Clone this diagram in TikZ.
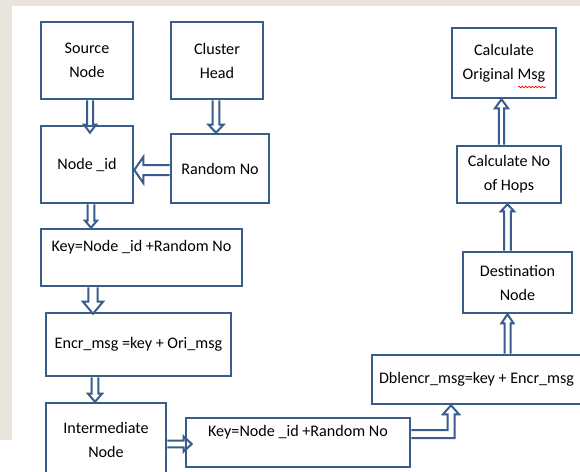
\documentclass[tikz,border=0pt]{standalone}
\usepackage{fontspec}
\setmainfont{Carlito}
\usetikzlibrary{calc,decorations.pathmorphing}
\definecolor{boxblue}{RGB}{56,93,138}
\definecolor{bgbeige}{RGB}{234,228,222}
\tikzset{
  box/.style={draw=boxblue, line width=1.9pt, align=center, inner sep=0pt,
    font=\fontsize{12.1}{18}\selectfont, text=black},
  arr/.style={draw=boxblue, line width=1.5pt, line join=miter}
}
\newcommand{\blkarrow}[5]{%
  \coordinate (bS) at #1;
  \coordinate (bE) at #2;
  \coordinate (bH) at ($(bE)!#5!(bS)$);
  \draw[arr] ($(bS)!#3!90:(bE)$) -- ($(bH)!#3!-90:(bS)$) -- ($(bH)!#4!-90:(bS)$)
    -- (bE) -- ($(bH)!#4!90:(bS)$) -- ($(bH)!#3!90:(bS)$) -- ($(bS)!#3!-90:(bE)$);
}
\begin{document}
\begin{tikzpicture}[x=0.75pt,y=-0.75pt]
\useasboundingbox (0,0) rectangle (580,471);
\fill[white] (0,0) rectangle (580,471);
\fill[bgbeige] (0,0) rectangle (12,440);
\fill[bgbeige] (0,0) rectangle (580,6);

\node[box, minimum width=69pt, minimum height=57.75pt] (src) at (87,60.5) {Source\\Node};
\node[box, minimum width=69pt, minimum height=57.75pt] (ch) at (217,60.5) {Cluster\\Head};
\node[box, minimum width=69pt, minimum height=57.75pt] (nid) at (87,164.5) {Node \_id};
\node[box, minimum width=73.5pt, minimum height=51.75pt] (rnd) at (220,168.5) {Random No};
\node[box, minimum width=150.75pt, minimum height=42.75pt] (key1) at (141.5,257.5) {Key=Node \_id +Random No\\ \mbox{}};
\node[box, minimum width=138.75pt, minimum height=47.25pt] (encr) at (138.5,344.5) {Encr\_msg =key + Ori\_msg};
\node[box, minimum width=90pt, minimum height=54.75pt] (inter) at (106,439.5) {Intermediate\\Node};
\node[box, minimum width=168pt, minimum height=36.75pt] (key2) at (298,442.5) {Key=Node \_id +Random No\\ \mbox{}};
\node[box, minimum width=156.75pt, minimum height=36.75pt] (dbl) at (476.5,379.5) {Dblencr\_msg=key + Encr\_msg};
\node[box, minimum width=81.75pt, minimum height=45.75pt] (dest) at (517.5,282.5) {Destination\\Node};
\node[box, minimum width=78pt, minimum height=42.75pt] (hops) at (509,174.5) {Calculate No\\of Hops};
\node[box, minimum width=78pt, minimum height=52.5pt] (orig) at (504,63) {Calculate\\Original Msg};

% spell-check squiggle under "Msg"
\draw[red, line width=0.5pt, decorate, decoration={snake, amplitude=0.6pt, segment length=2.5pt}]
  ($(orig.center)+(14,24)$) -- ($(orig.center)+(42,24)$);

% block arrows
\blkarrow{($(src.south)+(3,0)$)}{($(nid.north)+(3,8)$)}{2.25pt}{4.5pt}{6pt}
\blkarrow{($(ch.south)+(-1,0)$)}{($(rnd.north)+(-4,0)$)}{2.6pt}{5.6pt}{6pt}
\blkarrow{($(rnd.west)+(0,1.5)$)}{($(nid.east)+(0,5.5)$)}{3.75pt}{9.75pt}{6.75pt}
\blkarrow{($(nid.south)+(4,0)$)}{($(key1.north)+(-50.5,0)$)}{2.6pt}{4.5pt}{5.25pt}
\blkarrow{($(key1.south)+(-48.5,0)$)}{($(encr.north)+(-45.5,2)$)}{3.4pt}{7.5pt}{9pt}
\blkarrow{($(encr.south)+(-43.5,0)$)}{($(inter.north)+(-11,0)$)}{2.6pt}{5.25pt}{6pt}
\blkarrow{($(inter.east)+(0,4.5)$)}{($(key2.west)+(7,1.5)$)}{2.6pt}{5.6pt}{6pt}
\blkarrow{($(dbl.north)+(31,0)$)}{($(dest.south)+(-10,0)$)}{2.25pt}{4.5pt}{6.75pt}
\blkarrow{($(dest.north)+(-10,0)$)}{($(hops.south)+(-1.5,0)$)}{2.6pt}{4.9pt}{5.25pt}
\blkarrow{($(hops.north)+(-7.5,0)$)}{($(orig.south)+(-2.5,0)$)}{1.9pt}{4.9pt}{6.75pt}

% elbow arrow from second key box to double-encryption box
\coordinate (ku) at ($(key2.east)+(0,-12.5)$);
\coordinate (kl) at ($(key2.east)+(0,-4.5)$);
\coordinate (tip) at ($(dbl.south)+(-25.5,0)$);
\coordinate (il) at ($(tip)+(-3.5,9)$);
\coordinate (ir) at ($(tip)+(3.5,9)$);
\draw[arr] (ku) -- (ku -| il) -- (il) -- ($(tip)+(-8,9)$) -- (tip)
  -- ($(tip)+(8,9)$) -- (ir) -- (kl -| ir) -- (kl);
\end{tikzpicture}
\end{document}
